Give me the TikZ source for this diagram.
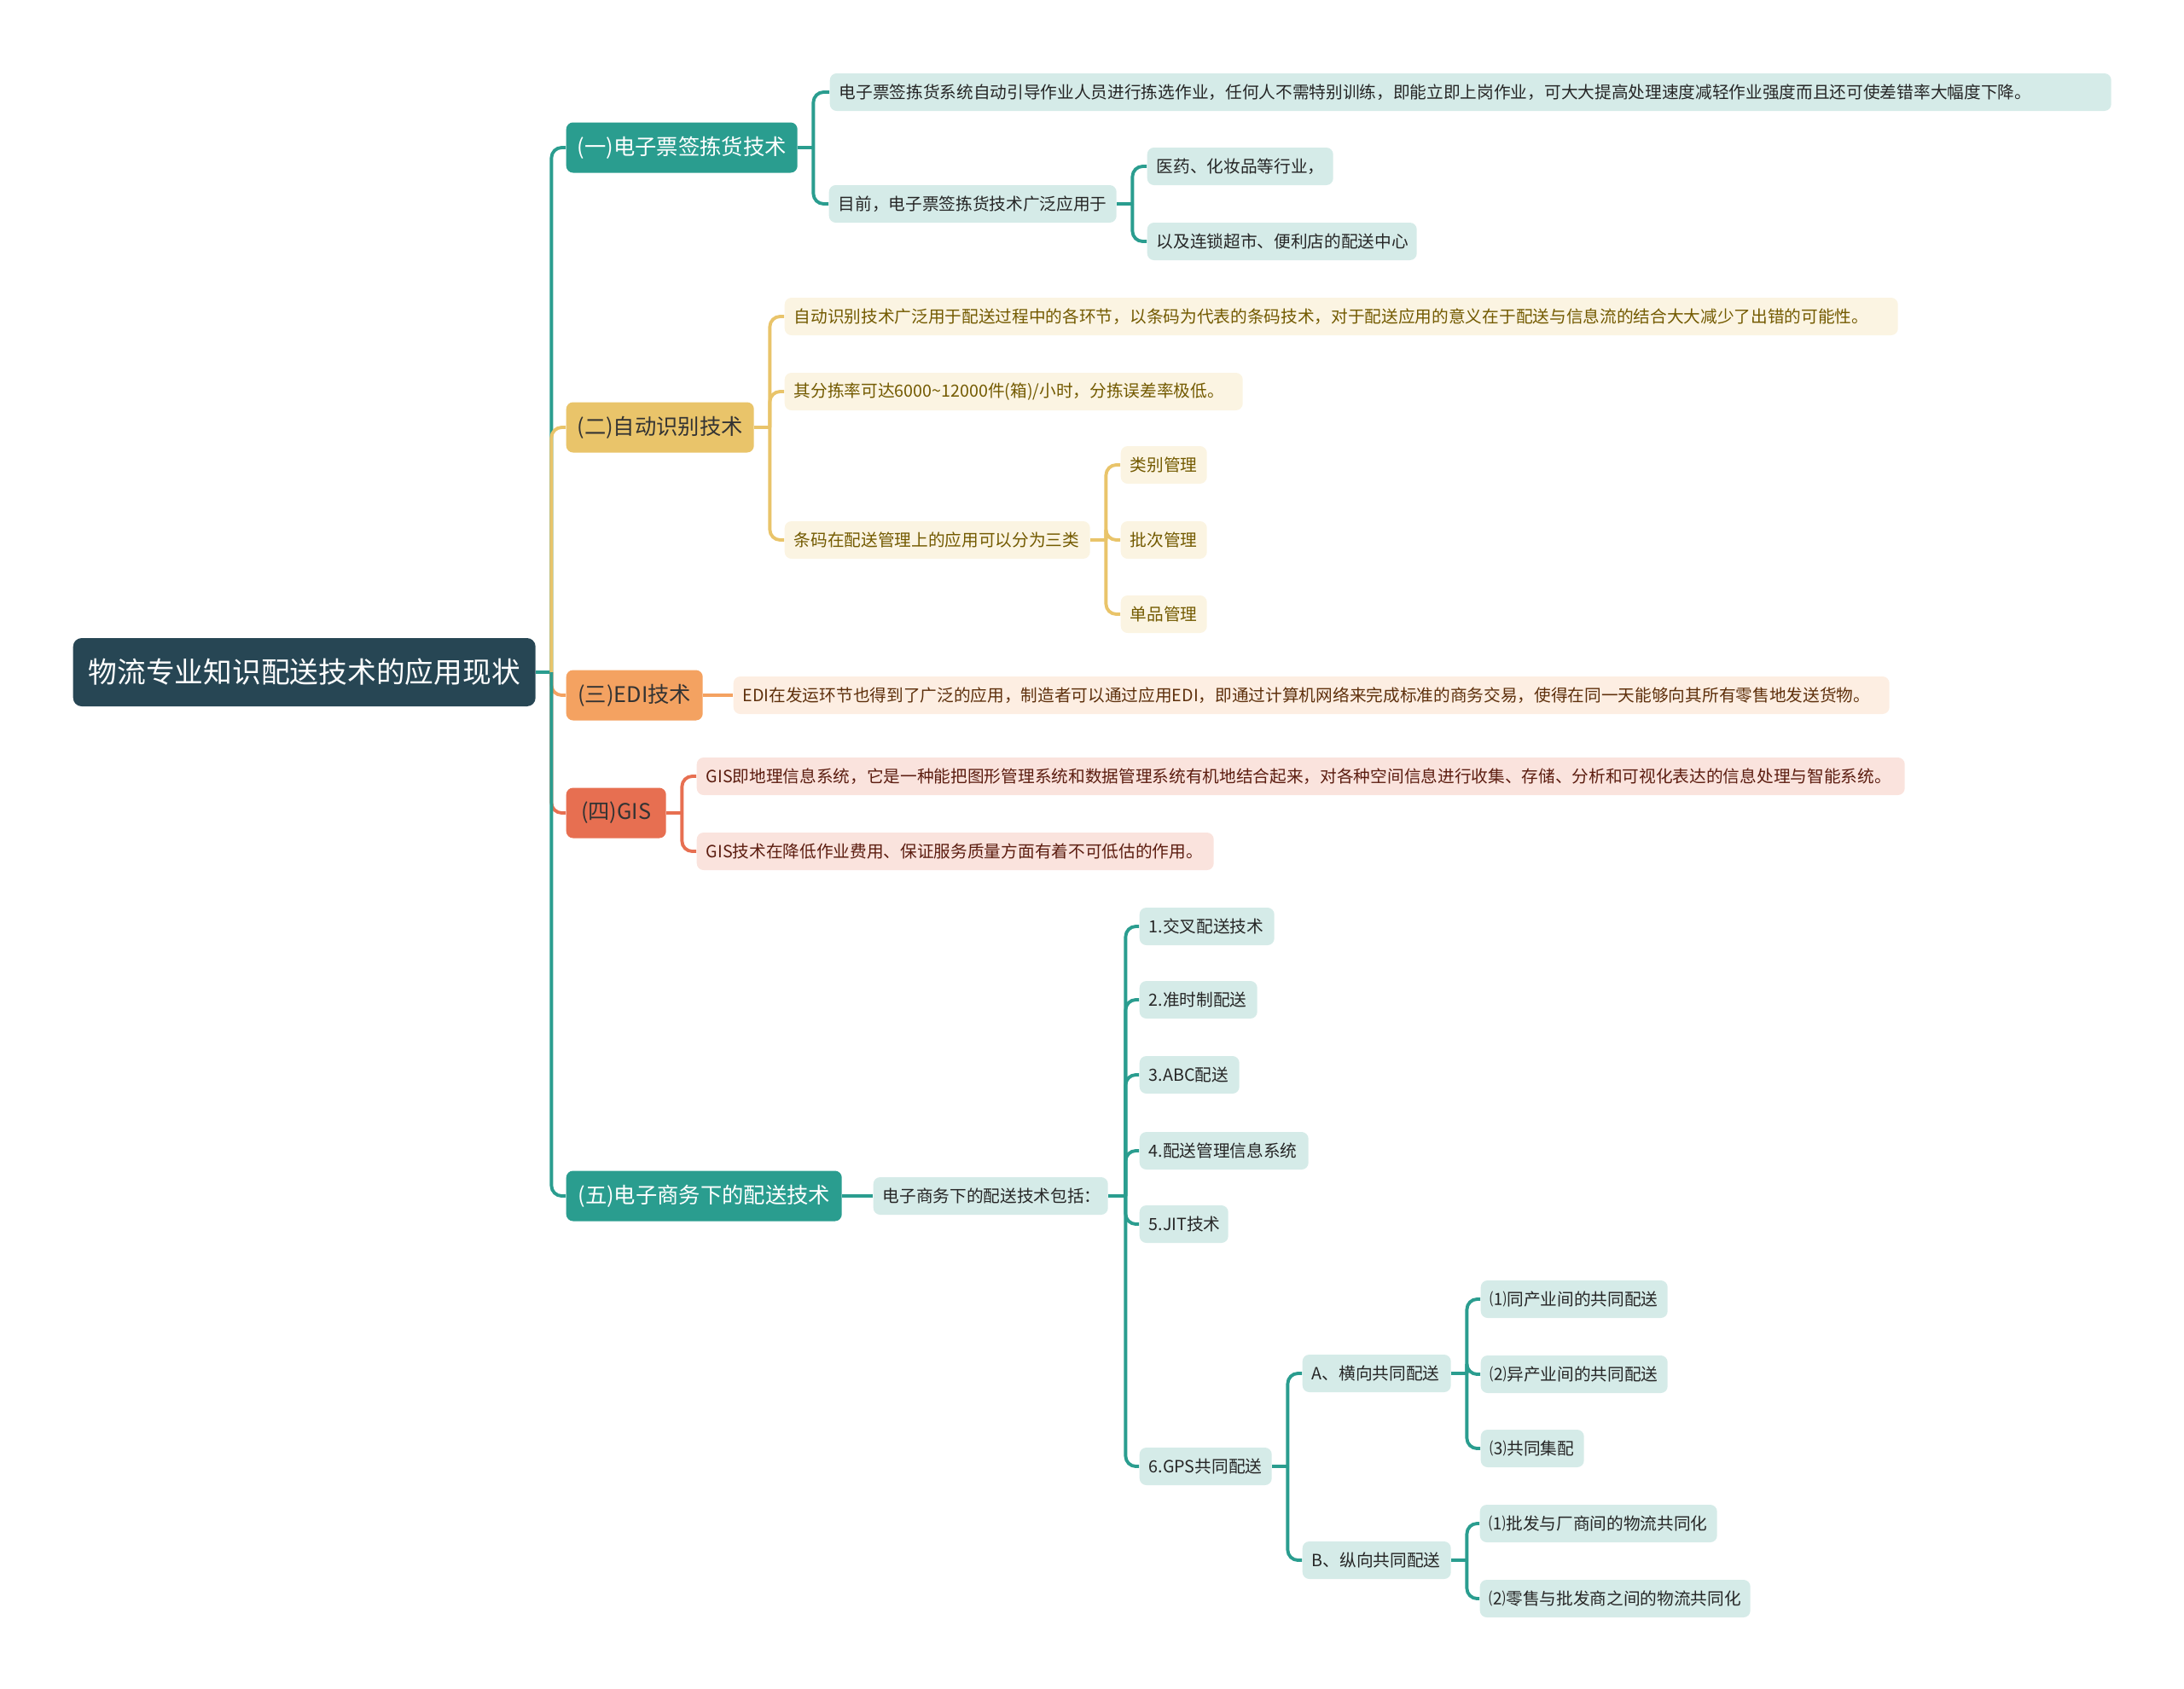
\documentclass[tikz,border=0pt]{standalone}
\usepackage{fontspec}
\setmainfont{Noto Sans CJK SC}
\definecolor{rootc}{HTML}{274654}
\definecolor{tealc}{HTML}{2A9D8F}
\definecolor{goldc}{HTML}{E9C46A}
\definecolor{orngc}{HTML}{F4A261}
\definecolor{redc}{HTML}{E76F51}
\definecolor{tealbg}{HTML}{D5EBE8}
\definecolor{goldbg}{HTML}{FBF4E2}
\definecolor{orngbg}{HTML}{FDEEE2}
\definecolor{redbg}{HTML}{FAE3DD}
\definecolor{goldtx}{HTML}{735A00}
\definecolor{orngtx}{HTML}{5E300C}
\definecolor{redtx}{HTML}{5C1D10}
\begin{document}
\begin{tikzpicture}[
  rootbox/.style={fill=rootc, text=white, rounded corners=0.1cm, anchor=west, minimum height=0.80cm, inner sep=0pt, font=\fontsize{9.6}{11}\selectfont},
  topic/.style={rounded corners=0.08cm, anchor=west, minimum height=0.59cm, inner sep=0pt, font=\fontsize{7.2}{8.6}\selectfont},
  leafbox/.style={rounded corners=0.08cm, anchor=west, minimum height=0.44cm, inner xsep=0.11cm, inner ysep=0pt, align=left, font=\fontsize{5.6}{6.7}\selectfont},
  tleaf/.style={leafbox, fill=tealbg, text=black!85},
  gleaf/.style={leafbox, fill=goldbg, text=goldtx},
  oleaf/.style={leafbox, fill=orngbg, text=orngtx},
  rleaf/.style={leafbox, fill=redbg, text=redtx},
  lk/.style={line width=1.1pt, rounded corners=0.12cm}
]
\useasboundingbox (0,0) rectangle (25.6,-19.8);

\node[rootbox, minimum width=5.42cm] (root) at (0.85,-7.88) {物流专业知识配送技术的应用现状};

\node[topic, fill=tealc, text=white, minimum width=2.71cm] (t1) at (6.63,-1.73) {(一)电子票签拣货技术};
\node[topic, fill=goldc, text=black!80, minimum width=2.20cm] (t2) at (6.63,-5.01) {(二)自动识别技术};
\node[topic, fill=orngc, text=black!80, minimum width=1.60cm] (t3) at (6.63,-8.15) {(三)EDI技术};
\node[topic, fill=redc, text=black!80, minimum width=1.17cm] (t4) at (6.63,-9.53) {(四)GIS};
\node[topic, fill=tealc, text=white, minimum width=3.23cm] (t5) at (6.63,-14.02) {(五)电子商务下的配送技术};

\node[tleaf, text width=14.80cm] (t1a) at (9.72,-1.08) {电子票签拣货系统自动引导作业人员进行拣选作业，任何人不需特别训练，即能立即上岗作业，可大大提高处理速度减轻作业强度而且还可使差错率大幅度下降。};
\node[tleaf, text width=3.15cm] (t1b) at (9.71,-2.39) {目前，电子票签拣货技术广泛应用于};
\node[tleaf, text width=1.96cm] (t1b1) at (13.44,-1.95) {医药、化妆品等行业，};
\node[tleaf, text width=2.94cm] (t1b2) at (13.44,-2.83) {以及连锁超市、便利店的配送中心};

\node[gleaf, text width=12.83cm] (t2a) at (9.19,-3.71) {自动识别技术广泛用于配送过程中的各环节，以条码为代表的条码技术，对于配送应用的意义在于配送与信息流的结合大大减少了出错的可能性。};
\node[gleaf, text width=5.15cm] (t2b) at (9.19,-4.59) {其分拣率可达6000\textasciitilde12000件(箱)/小时，分拣误差率极低。};
\node[gleaf, text width=3.36cm] (t2c) at (9.19,-6.33) {条码在配送管理上的应用可以分为三类};
\node[gleaf, text width=0.79cm] (t2c1) at (13.13,-5.45) {类别管理};
\node[gleaf, text width=0.79cm] (t2c2) at (13.13,-6.33) {批次管理};
\node[gleaf, text width=0.79cm] (t2c3) at (13.13,-7.20) {单品管理};

\node[oleaf, text width=13.33cm] (t3a) at (8.59,-8.15) {EDI在发运环节也得到了广泛的应用，制造者可以通过应用EDI，即通过计算机网络来完成标准的商务交易，使得在同一天能够向其所有零售地发送货物。};

\node[rleaf, text width=13.94cm] (t4a) at (8.16,-9.10) {GIS即地理信息系统，它是一种能把图形管理系统和数据管理系统有机地结合起来，对各种空间信息进行收集、存储、分析和可视化表达的信息处理与智能系统。};
\node[rleaf, text width=5.84cm] (t4b) at (8.16,-9.98) {GIS技术在降低作业费用、保证服务质量方面有着不可低估的作用。};

\node[tleaf, text width=2.53cm] (t5a) at (10.23,-14.02) {电子商务下的配送技术包括：};
\node[tleaf, text width=1.36cm] (t5a1) at (13.35,-10.86) {1.交叉配送技术};
\node[tleaf, text width=1.16cm] (t5a2) at (13.35,-11.72) {2.准时制配送};
\node[tleaf, text width=0.95cm] (t5a3) at (13.35,-12.60) {3.ABC配送};
\node[tleaf, text width=1.76cm] (t5a4) at (13.35,-13.49) {4.配送管理信息系统};
\node[tleaf, text width=0.82cm] (t5a5) at (13.35,-14.35) {5.JIT技术};
\node[tleaf, text width=1.33cm] (t5a6) at (13.35,-17.19) {6.GPS共同配送};
\node[tleaf, text width=1.52cm] (t5a6a) at (15.26,-16.10) {A、横向共同配送};
\node[tleaf, text width=1.97cm] (t5a6a1) at (17.35,-15.23) {⑴同产业间的共同配送};
\node[tleaf, text width=1.97cm] (t5a6a2) at (17.35,-16.11) {⑵异产业间的共同配送};
\node[tleaf, text width=0.99cm] (t5a6a3) at (17.35,-16.98) {⑶共同集配};
\node[tleaf, text width=1.52cm] (t5a6b) at (15.26,-18.29) {B、纵向共同配送};
\node[tleaf, text width=2.56cm] (t5a6b1) at (17.34,-17.86) {⑴批发与厂商间的物流共同化};
\node[tleaf, text width=2.95cm] (t5a6b2) at (17.34,-18.74) {⑵零售与批发商之间的物流共同化};

\draw[lk, tealc] (root.east) -- ++(0.18,0) coordinate (j0);
\draw[lk, tealc] (j0) |- (t1.west);
\draw[lk, goldc] (j0) |- (t2.west);
\draw[lk, orngc] (j0) |- (t3.west);
\draw[lk, redc] (j0) |- (t4.west);
\draw[lk, tealc] (j0) |- (t5.west);

\draw[lk, tealc] (t1.east) -- ++(0.18,0) coordinate (j1);
\draw[lk, tealc] (j1) |- (t1a.west);
\draw[lk, tealc] (j1) |- (t1b.west);
\draw[lk, tealc] (t1b.east) -- ++(0.18,0) coordinate (j2);
\draw[lk, tealc] (j2) |- (t1b1.west);
\draw[lk, tealc] (j2) |- (t1b2.west);

\draw[lk, goldc] (t2.east) -- ++(0.18,0) coordinate (j3);
\draw[lk, goldc] (j3) |- (t2a.west);
\draw[lk, goldc] (j3) |- (t2b.west);
\draw[lk, goldc] (j3) |- (t2c.west);
\draw[lk, goldc] (t2c.east) -- ++(0.18,0) coordinate (j4);
\draw[lk, goldc] (j4) |- (t2c1.west);
\draw[lk, goldc] (j4) |- (t2c2.west);
\draw[lk, goldc] (j4) |- (t2c3.west);

\draw[lk, orngc] (t3.east) -- (t3a.west);

\draw[lk, redc] (t4.east) -- ++(0.18,0) coordinate (j5);
\draw[lk, redc] (j5) |- (t4a.west);
\draw[lk, redc] (j5) |- (t4b.west);

\draw[lk, tealc] (t5.east) -- (t5a.west);
\draw[lk, tealc] (t5a.east) -- ++(0.20,0) coordinate (j6);
\draw[lk, tealc] (j6) |- (t5a1.west);
\draw[lk, tealc] (j6) |- (t5a2.west);
\draw[lk, tealc] (j6) |- (t5a3.west);
\draw[lk, tealc] (j6) |- (t5a4.west);
\draw[lk, tealc] (j6) |- (t5a5.west);
\draw[lk, tealc] (j6) |- (t5a6.west);
\draw[lk, tealc] (t5a6.east) -- ++(0.18,0) coordinate (j7);
\draw[lk, tealc] (j7) |- (t5a6a.west);
\draw[lk, tealc] (j7) |- (t5a6b.west);
\draw[lk, tealc] (t5a6a.east) -- ++(0.18,0) coordinate (j8);
\draw[lk, tealc] (j8) |- (t5a6a1.west);
\draw[lk, tealc] (j8) |- (t5a6a2.west);
\draw[lk, tealc] (j8) |- (t5a6a3.west);
\draw[lk, tealc] (t5a6b.east) -- ++(0.18,0) coordinate (j9);
\draw[lk, tealc] (j9) |- (t5a6b1.west);
\draw[lk, tealc] (j9) |- (t5a6b2.west);
\end{tikzpicture}
\end{document}
